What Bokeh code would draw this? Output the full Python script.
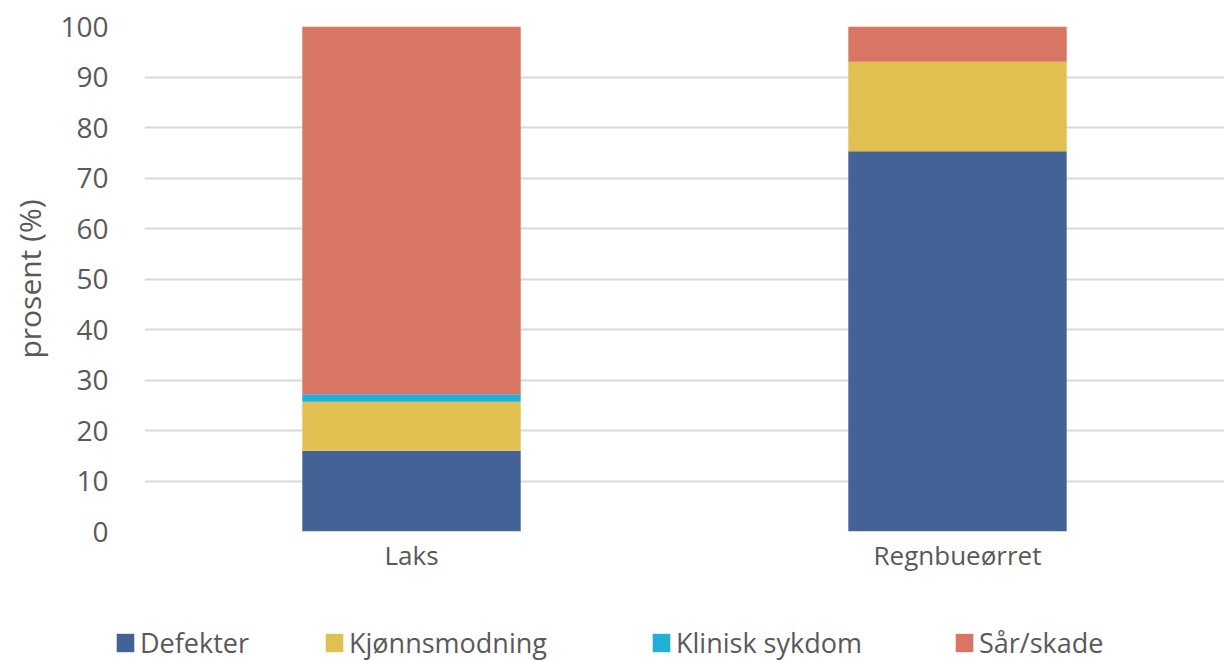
from bokeh.plotting import figure
from bokeh.models import ColumnDataSource, FactorRange, Range1d, Legend, LegendItem, FixedTicker
from bokeh.embed import file_html
from bokeh.resources import INLINE

species = ["Laks", "Regnbueørret"]
series = ["Defekter", "Kjønnsmodning", "Klinisk sykdom", "Sår/skade"]
defekter = [16.0, 75.3]
kjonnsmodning = [9.7, 17.7]
klinisk_sykdom = [1.5, 0.0]
sar_skade = [72.8, 7.0]
y_ticks = [0, 10, 20, 30, 40, 50, 60, 70, 80, 90, 100]
colors = ["#436397", "#E0C050", "#22AFD7", "#D97563"]

FONT = "Open Sans"
TXT = "#595959"

data = dict(species=species, **{
    "Defekter": defekter,
    "Kjønnsmodning": kjonnsmodning,
    "Klinisk sykdom": klinisk_sykdom,
    "Sår/skade": sar_skade,
})
src = ColumnDataSource(data)

p = figure(x_range=FactorRange(*species, range_padding=-0.011), y_range=Range1d(0, 100),
           width=1224, height=585, output_backend="svg", toolbar_location=None,
           min_border_left=144, min_border_right=0, min_border_top=26, min_border_bottom=54)
p.outline_line_color = None

p.vbar_stack(series, x="species", width=0.4, color=colors, source=src, line_color=None)

p.xgrid.grid_line_color = None
p.ygrid.grid_line_color = "#D9D9D9"
p.ygrid.grid_line_width = 2
p.yaxis.ticker = FixedTicker(ticks=y_ticks)

for ax in (p.xaxis[0], p.yaxis[0]):
    ax.axis_line_color = None
    ax.major_tick_line_color = None
    ax.minor_tick_line_color = None
    ax.major_tick_out = 0
    ax.major_tick_in = 0
    ax.minor_tick_out = 0
    ax.major_label_text_font = FONT
    ax.major_label_text_color = TXT

p.xaxis.major_label_text_font_size = "26px"
p.yaxis.major_label_text_font_size = "28px"
p.yaxis.major_label_standoff = 36
p.xaxis.major_label_standoff = 5
p.yaxis.axis_label = "prosent (%)"
p.yaxis.axis_label_text_font = FONT
p.yaxis.axis_label_text_font_size = "30px"
p.yaxis.axis_label_text_font_style = "normal"
p.yaxis.axis_label_text_color = TXT
p.yaxis.axis_label_standoff = 7

# legend strip: same series drawn outside its visible range, only the legend shows
leg = figure(x_range=FactorRange(*species), y_range=Range1d(1000, 1001),
             width=1224, height=76, output_backend="svg", toolbar_location=None,
             min_border=0, x_axis_location=None, y_axis_location=None)
leg.outline_line_color = None
leg.grid.grid_line_color = None
leg_src = ColumnDataSource(data)
leg_renderers = leg.vbar_stack(series, x="species", width=0.4, color=colors,
                               source=leg_src, line_color=None)

x_pos = [114, 323, 650, 953]
for name, r, xp in zip(series, leg_renderers, x_pos):
    lg = Legend(items=[LegendItem(label=name, renderers=[r])], location=(xp, 0),
                orientation="horizontal", padding=0, margin=0, spacing=0,
                glyph_width=22, glyph_height=23, label_standoff=4,
                label_text_font=FONT, label_text_font_size="27px", label_text_color=TXT,
                border_line_color=None, background_fill_alpha=0)
    leg.add_layout(lg, "center")

open("out.html", "w").write(file_html([p, leg], INLINE))
